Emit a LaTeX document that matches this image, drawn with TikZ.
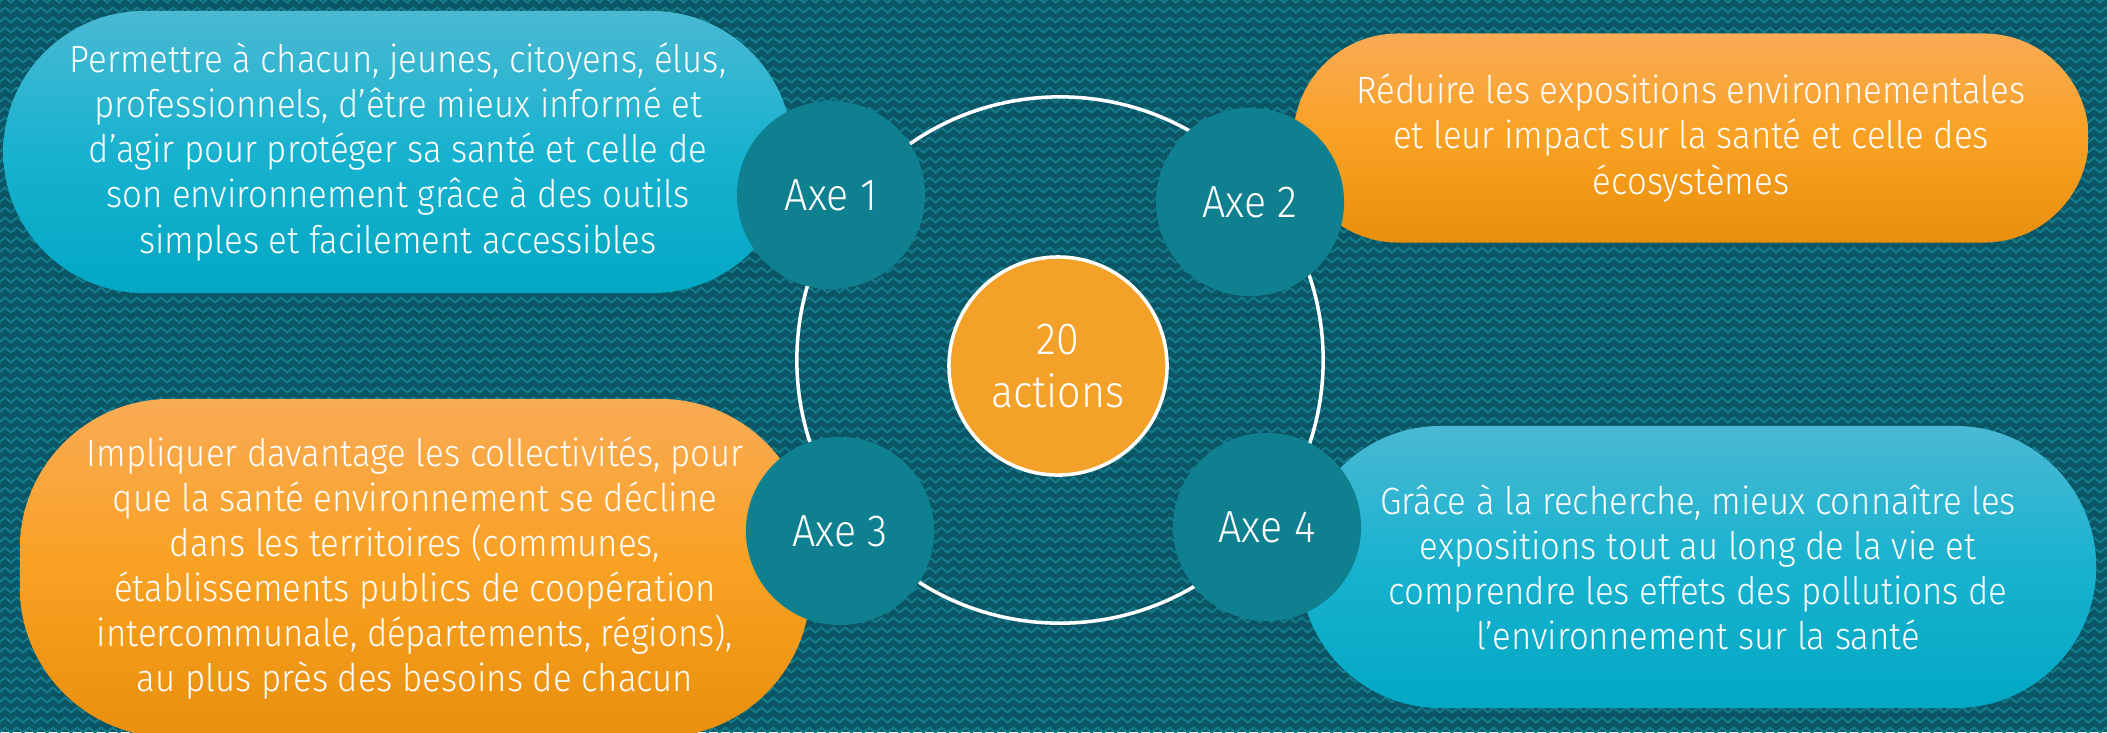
\documentclass[tikz,border=0pt]{standalone}
\usepackage{fontspec}
\setmainfont{Fira Sans}[UprightFont={* Light}, FakeStretch=0.915]
\usetikzlibrary{decorations.pathmorphing}
\definecolor{BgTeal}{HTML}{0B5665}
\definecolor{WaveTeal}{HTML}{147C8C}
\definecolor{AxeTeal}{HTML}{0E808F}
\definecolor{SkyTop}{HTML}{4AB9D3}
\definecolor{SkyMid}{HTML}{18B2CF}
\definecolor{SkyBot}{HTML}{02A8C4}
\definecolor{OrTop}{HTML}{F9AB55}
\definecolor{OrMid}{HTML}{F9A123}
\definecolor{OrBot}{HTML}{E98F0D}
\definecolor{HubOrange}{HTML}{F4A12A}

\begin{document}
\begin{tikzpicture}[x=0.01cm, y=-0.01cm]
    \tikzset{pill/.style={rectangle, inner sep=0pt, text=white, align=center, font=\fontsize{10.8}{12.8}\selectfont},
        sky/.style={pill, top color=SkyTop, bottom color=SkyBot, middle color=SkyMid},
        sun/.style={pill, top color=OrTop, bottom color=OrBot, middle color=OrMid},
        axe/.style={circle, inner sep=0pt, fill=AxeTeal, minimum size=1.88cm, text=white, font=\fontsize{12.8}{14}\selectfont},
        hub/.style={circle, inner sep=0pt, fill=HubOrange, draw=white, line width=1pt, minimum size=2.18cm, text=white, align=center, font=\fontsize{12.8}{15.1}\selectfont}
    }

    \useasboundingbox (0,0) rectangle (2107,732);
    \clip (0,0) rectangle (2107,732);

    % wavy background
    \fill [BgTeal] (0,0) rectangle (2107,732);
    \foreach \y in {0,10,...,740} {
        \draw [WaveTeal, line width=0.55pt, decorate, decoration={zigzag, segment length=0.12cm, amplitude=0.025cm}] (-10,\y) -- (2130,\y);
    }

    \node (Ring) [draw=white, line width=1pt, circle, inner sep=0pt, minimum size=5.26cm] at (1060,360) {};

    % the four axes and their texts
    \node (Pill1) [sky, minimum width=7.89cm, minimum height=2.82cm, rounded corners=1.41cm] at (398,152)
        {Permettre à chacun, jeunes, citoyens, élus,\\professionnels, d’être mieux informé et\\d’agir pour protéger sa santé et celle de\\son environnement grâce à des outils\\simples et facilement accessibles};
    \node (Pill2) [sun, minimum width=7.95cm, minimum height=2.09cm, rounded corners=1.05cm] at (1691,138)
        {Réduire les expositions environnementales\\et leur impact sur la santé et celle des\\écosystèmes};
    \node (Pill3) [sun, minimum width=7.90cm, minimum height=3.38cm, rounded corners=1.50cm] at (415,568)
        {Impliquer davantage les collectivités, pour\\que la santé environnement se décline\\dans les territoires (communes,\\établissements publics de coopération\\intercommunale, départements, régions),\\au plus près des besoins de chacun};
    \node (Pill4) [sky, minimum width=7.96cm, minimum height=2.82cm, rounded corners=1.41cm] at (1698,567)
        {Grâce à la recherche, mieux connaître les\\expositions tout au long de la vie et\\comprendre les effets des pollutions de\\l’environnement sur la santé};

    \node (Axe1) [axe] at (831,195) {Axe 1};
    \node (Axe2) [axe] at (1250,202) {Axe 2};
    \node (Axe3) [axe] at (840,531) {Axe 3};
    \node (Axe4) [axe] at (1267,527) {Axe 4};

    \node (Hub) [hub] at (1058,366) {20\\actions};
\end{tikzpicture}
\end{document}
